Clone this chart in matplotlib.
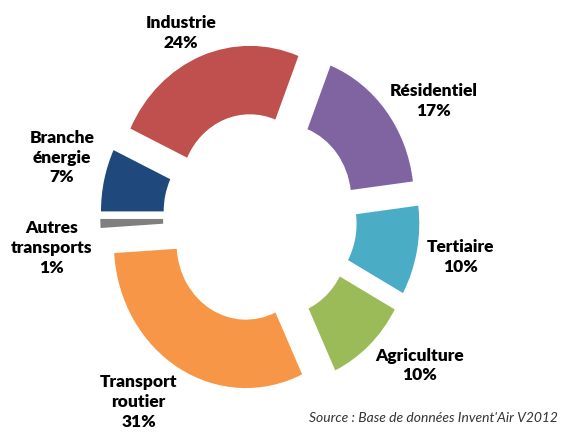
import matplotlib.pyplot as plt

# Répartition des émissions par secteur (%)
secteurs = ['Industrie', 'Résidentiel', 'Tertiaire', 'Agriculture',
            'Transport\nroutier', 'Autres\ntransports', 'Branche\nénergie']
parts = [24, 17, 10, 10, 31, 1, 7]
couleurs = ['#C0504D', '#8064A2', '#4BACC6', '#9BBB59',
            '#F79646', '#7F7F7F', '#1F497D']

# position des étiquettes (coordonnées du graphique)
pos_etiquettes = [(-0.60, 1.285), (1.314, 0.81), (1.52, -0.27), (1.21, -1.024),
                  (-0.92, -1.28), (-1.58, -0.21), (-1.50, 0.42)]

plt.rcParams['font.family'] = ['Lato', 'DejaVu Sans']

fig = plt.figure(figsize=(5.68, 4.33), dpi=100)
ax = fig.add_axes([0, 0, 1, 1])

ax.pie(parts, colors=couleurs, explode=[0.21] * len(parts),
       startangle=154.8, counterclock=False,
       wedgeprops=dict(width=0.475, linewidth=0))

ax.set_aspect('auto')
ax.set_xlim(-1.970, 2.333)
ax.set_ylim(-1.493, 1.514)
ax.axis('off')

for nom, val, (x, y) in zip(secteurs, parts, pos_etiquettes):
    ax.text(x, y, f'{nom}\n{val}%', ha='center', va='center',
            fontsize=12.5, fontweight='heavy', color='black', linespacing=1.3)

ax.text(2.258, -1.389, "Source : Base de données Invent'Air V2012",
        ha='right', va='center', fontsize=10, fontstyle='italic', color='#333333')

plt.savefig('out.png', dpi=100)
